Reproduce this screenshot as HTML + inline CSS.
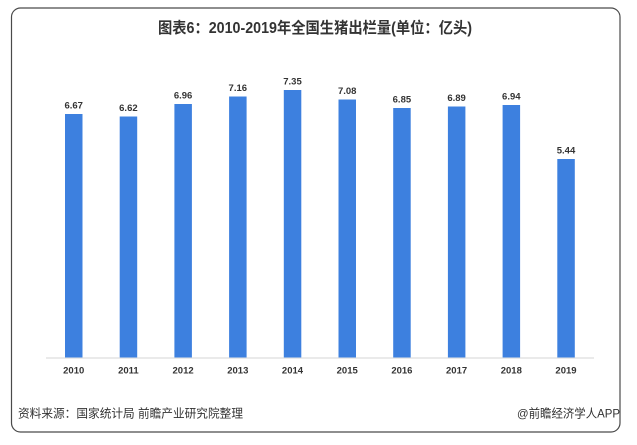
<!DOCTYPE html>
<html><head><meta charset="utf-8"><style>
html,body{margin:0;padding:0;background:#fff;}
svg{display:block;}
</style></head><body>
<svg width="637" height="445" viewBox="0 0 637 445" xmlns="http://www.w3.org/2000/svg">
<rect x="0" y="0" width="637" height="445" fill="#fff"/>
<rect x="11.5" y="8" width="608.5" height="424" rx="9" ry="9" fill="#fff" stroke="#4a4a4a" stroke-width="1.2"/>
<g font-family="'Liberation Sans','Noto Sans CJK SC',sans-serif" fill="#333">
<text x="158" y="33" font-size="15.5" font-weight="bold" textLength="314" lengthAdjust="spacingAndGlyphs">图表6：2010-2019年全国生猪出栏量(单位：亿头)</text>
</g>
<line x1="46" y1="358" x2="594" y2="358" stroke="#e3e3e3" stroke-width="1.5"/>
<g fill="#3d80df">
<rect x="65" y="114" width="17.5" height="243.5"/>
<rect x="119.7" y="116.5" width="17.5" height="241"/>
<rect x="174.4" y="104" width="17.5" height="253.5"/>
<rect x="229.1" y="96.5" width="17.5" height="261"/>
<rect x="283.8" y="90" width="17.5" height="267.5"/>
<rect x="338.5" y="99.5" width="17.5" height="258"/>
<rect x="393.2" y="108" width="17.5" height="249.5"/>
<rect x="447.9" y="106.5" width="17.5" height="251"/>
<rect x="502.6" y="105" width="17.5" height="252.5"/>
<rect x="557.3" y="159" width="17.5" height="198.5"/>
</g>
<g font-family="'Liberation Sans',sans-serif" font-size="9.5" font-weight="bold" fill="#333" text-anchor="middle">
<text x="73.7" y="108.5">6.67</text>
<text x="128.4" y="111">6.62</text>
<text x="183.1" y="98.5">6.96</text>
<text x="237.8" y="91">7.16</text>
<text x="292.5" y="84.5">7.35</text>
<text x="347.2" y="94">7.08</text>
<text x="401.9" y="102.5">6.85</text>
<text x="456.6" y="101">6.89</text>
<text x="511.3" y="99.5">6.94</text>
<text x="566" y="153.5">5.44</text>
</g>
<g font-family="'Liberation Sans',sans-serif" font-size="9.5" font-weight="bold" fill="#333" text-anchor="middle">
<text x="73.7" y="373.5">2010</text>
<text x="128.4" y="373.5">2011</text>
<text x="183.1" y="373.5">2012</text>
<text x="237.8" y="373.5">2013</text>
<text x="292.5" y="373.5">2014</text>
<text x="347.2" y="373.5">2015</text>
<text x="401.9" y="373.5">2016</text>
<text x="456.6" y="373.5">2017</text>
<text x="511.3" y="373.5">2018</text>
<text x="566" y="373.5">2019</text>
</g>
<g font-family="'Liberation Sans','Noto Sans CJK SC',sans-serif" font-size="12" fill="#333">
<text x="18" y="417.5" textLength="225" lengthAdjust="spacingAndGlyphs">资料来源：国家统计局 前瞻产业研究院整理</text>
<text x="517" y="417.5" textLength="103" lengthAdjust="spacingAndGlyphs">@前瞻经济学人APP</text>
</g>
</svg>
</body></html>
